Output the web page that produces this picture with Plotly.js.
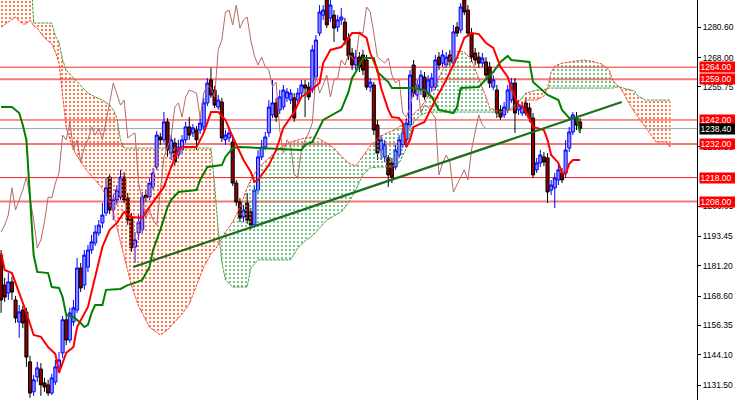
<!DOCTYPE html>
<html><head><meta charset="utf-8">
<script src="https://cdn.plot.ly/plotly-3.0.1.min.js"></script>
<style>html,body{margin:0;padding:0;background:#fff;}#chart{width:735px;height:400px;}</style>
</head><body><div id="chart"></div>
<script>
// ---- candles (bar index = position in array) ----
const openP = [1185.7,1173.2,1169.9,1174.5,1167.0,1157.8,1162.8,1162.0,1141.2,1128.7,1134.9,1138.2,1132.4,1131.6,1128.2,1132.8,1139.1,1144.9,1158.7,1150.3,1157.8,1162.8,1180.3,1173.2,1180.7,1187.8,1190.7,1194.9,1199.1,1203.2,1218.2,1204.5,1208.7,1209.9,1218.2,1209.5,1201.6,1189.1,1194.9,1196.2,1210.7,1209.9,1214.1,1222.4,1234.9,1233.7,1241.2,1228.2,1232.4,1227.4,1229.5,1233.7,1239.1,1236.6,1237.8,1237.8,1239.1,1249.1,1258.7,1254.5,1247.4,1249.5,1233.7,1234.5,1232.8,1215.7,1207.8,1201.6,1207.4,1203.7,1198.2,1212.8,1226.6,1230.7,1236.6,1244.1,1249.1,1246.2,1247.4,1251.2,1250.3,1251.2,1250.3,1253.2,1256.6,1255.7,1254.5,1259.9,1278.2,1285.7,1292.0,1284.5,1285.7,1280.7,1283.7,1282.8,1276.2,1269.9,1264.9,1268.2,1269.1,1267.0,1255.7,1256.6,1239.9,1229.5,1226.6,1226.2,1224.1,1222.4,1227.4,1231.6,1233.7,1239.9,1264.9,1252.4,1254.5,1259.9,1253.2,1255.7,1255.7,1268.2,1265.7,1264.9,1269.1,1265.7,1280.7,1279.5,1292.0,1287.8,1278.2,1269.9,1268.2,1265.7,1266.2,1264.1,1255.7,1254.5,1246.2,1244.1,1246.2,1250.3,1257.4,1246.2,1244.9,1249.1,1247.0,1242.8,1221.2,1224.1,1226.6,1226.2,1212.8,1213.7,1217.0,1219.9,1219.9,1230.3,1237.0,1242.8,1241.2];
const highP = [1187.8,1176.2,1178.2,1176.6,1168.7,1164.9,1164.5,1163.7,1143.7,1135.7,1141.2,1140.7,1134.5,1133.7,1136.2,1142.0,1145.3,1160.3,1160.3,1163.7,1167.0,1184.5,1182.4,1187.8,1189.9,1194.1,1198.2,1200.3,1207.4,1217.8,1219.1,1210.7,1214.9,1221.2,1220.3,1211.6,1203.2,1195.3,1202.4,1212.0,1212.8,1217.8,1222.0,1237.4,1236.6,1245.3,1242.8,1235.7,1234.5,1233.7,1235.7,1241.2,1243.2,1240.3,1239.5,1242.8,1251.2,1259.5,1263.7,1256.2,1252.4,1251.2,1237.8,1238.7,1235.7,1217.0,1209.5,1206.6,1211.6,1205.3,1214.9,1229.5,1233.7,1237.0,1250.3,1258.7,1251.2,1254.5,1256.6,1255.3,1254.9,1253.2,1255.3,1258.7,1258.7,1257.8,1273.2,1277.4,1289.9,1289.9,1293.0,1292.5,1287.8,1285.7,1288.7,1284.5,1278.2,1272.0,1271.2,1270.3,1271.2,1269.1,1259.5,1257.8,1242.0,1235.7,1233.7,1227.4,1226.2,1231.6,1235.7,1238.7,1242.8,1262.8,1267.0,1258.7,1262.8,1262.0,1260.7,1261.6,1269.1,1270.3,1271.2,1270.3,1271.2,1281.6,1282.8,1290.7,1293.0,1289.9,1280.3,1272.0,1270.3,1269.9,1268.2,1266.2,1260.7,1256.6,1248.2,1249.5,1256.6,1259.5,1259.5,1250.3,1249.5,1251.2,1249.1,1244.9,1226.2,1229.5,1228.7,1228.2,1217.0,1219.9,1224.1,1222.0,1233.7,1239.1,1245.3,1245.3,1242.8];
const lowP = [1161.6,1166.2,1167.0,1167.0,1157.4,1151.2,1155.3,1139.1,1126.2,1127.0,1132.8,1127.0,1128.7,1127.0,1127.4,1131.6,1137.8,1142.8,1148.2,1149.1,1156.2,1161.6,1170.3,1171.2,1178.7,1186.2,1189.5,1193.7,1197.0,1202.0,1202.8,1200.3,1206.6,1208.7,1207.4,1198.2,1187.0,1182.4,1192.0,1194.9,1207.8,1208.7,1212.8,1221.2,1231.6,1232.4,1226.6,1225.3,1222.8,1226.2,1228.2,1232.4,1233.7,1234.9,1229.5,1236.2,1237.8,1247.8,1251.2,1247.0,1246.2,1232.8,1231.6,1232.8,1214.5,1206.2,1199.5,1199.5,1198.7,1196.2,1197.0,1211.6,1225.3,1229.5,1234.9,1242.8,1241.2,1244.5,1246.2,1249.5,1248.7,1241.2,1249.1,1252.0,1243.2,1250.3,1253.2,1258.7,1277.0,1283.7,1280.3,1282.8,1274.5,1278.7,1281.6,1273.2,1267.0,1262.8,1262.8,1262.0,1260.7,1254.5,1253.7,1235.7,1225.3,1225.3,1224.5,1214.1,1215.7,1221.2,1226.2,1230.3,1232.4,1238.7,1251.6,1250.3,1252.4,1250.3,1251.6,1253.7,1254.5,1262.8,1264.1,1263.7,1264.5,1264.5,1276.6,1278.2,1285.7,1276.6,1266.2,1264.9,1263.7,1264.1,1258.7,1255.3,1254.5,1242.8,1242.0,1242.8,1244.9,1249.1,1236.6,1244.1,1243.7,1243.7,1241.2,1217.8,1219.9,1222.4,1222.8,1207.4,1210.7,1205.3,1214.9,1215.7,1217.8,1228.7,1235.7,1237.8,1237.4];
const closeP = [1167.0,1168.2,1174.5,1170.3,1159.5,1162.0,1157.4,1143.2,1128.2,1133.7,1138.7,1131.6,1130.7,1128.2,1134.5,1139.1,1142.0,1158.7,1150.3,1161.6,1163.7,1180.3,1172.0,1185.7,1187.8,1191.2,1195.3,1198.2,1202.4,1213.7,1204.5,1208.7,1212.8,1218.2,1208.7,1200.3,1188.7,1192.0,1199.5,1209.9,1209.5,1215.7,1219.9,1235.7,1233.7,1241.2,1229.5,1233.7,1224.5,1230.7,1233.7,1239.1,1235.7,1238.7,1233.7,1240.7,1249.1,1257.4,1252.4,1248.2,1250.3,1234.5,1235.7,1236.6,1215.7,1207.8,1201.2,1204.5,1200.3,1198.2,1212.8,1226.6,1230.7,1234.9,1247.4,1249.1,1243.2,1251.6,1254.5,1253.7,1253.2,1242.8,1253.2,1256.6,1255.3,1251.6,1271.2,1275.3,1287.0,1287.8,1281.6,1289.9,1280.3,1283.7,1284.9,1275.3,1268.7,1264.9,1268.2,1264.1,1262.8,1255.7,1257.8,1237.8,1228.2,1233.7,1231.6,1219.1,1218.2,1229.5,1233.7,1236.6,1240.7,1260.7,1253.2,1256.6,1260.7,1251.6,1258.7,1259.5,1267.0,1264.9,1269.1,1268.2,1266.2,1278.7,1278.2,1289.1,1287.0,1278.2,1268.2,1267.0,1265.7,1267.8,1260.7,1257.4,1258.7,1244.9,1243.2,1247.4,1254.5,1257.4,1244.9,1248.2,1247.4,1244.9,1242.8,1219.1,1224.1,1227.4,1224.5,1212.0,1214.9,1217.8,1221.2,1217.0,1229.5,1237.0,1244.1,1239.9,1238.4];

// ---- Ichimoku lines ----
const tenkanX = [0,1,3,5,7,9,11,13,15,16,17,18,20,21,24,26,28,30,32,34,36,39,41,45,47,49,50,54,56,58,60,62,64,67,69,70,71,72,74,76,78,81,83,85,88,89,91,94,97,99,101,102,104,105,107,108,110,111,112,113,114,117,120,123,126,128,130,132,134,136,138,140,141,143,144,146,147,150,151,152,154,155,156,157,158,160];
const tenkanY = [1186.6,1179.5,1178.2,1170.3,1161.6,1152.4,1151.6,1147.4,1144.5,1136.6,1140.7,1144.9,1147.4,1155.7,1164.1,1176.6,1189.1,1196.2,1199.1,1203.7,1201.6,1201.2,1205.7,1214.1,1222.4,1229.5,1230.7,1230.7,1236.6,1245.3,1245.3,1242.0,1234.9,1225.3,1220.3,1216.2,1217.0,1219.1,1223.2,1229.5,1238.7,1245.3,1251.6,1253.7,1257.4,1265.7,1271.2,1272.4,1278.2,1278.2,1276.2,1269.9,1262.8,1255.3,1246.2,1243.2,1242.8,1240.7,1230.7,1233.7,1239.1,1241.2,1250.3,1258.7,1268.2,1276.2,1278.2,1277.8,1274.1,1272.0,1264.1,1259.9,1255.3,1248.2,1247.8,1242.8,1239.1,1237.8,1233.7,1227.4,1224.1,1219.9,1219.5,1223.7,1225.3,1225.3];
const kijunX = [0,3,5,6,7,8,9,10,13,14,16,17,18,20,22,23,24,25,26,28,29,33,35,37,39,41,42,44,46,47,49,54,55,57,61,62,64,66,83,84,86,89,94,96,97,98,100,103,104,107,108,114,117,119,121,125,126,127,132,133,136,138,140,141,146,147,149,151,154,155,157,159,160];
const kijunY = [1247.4,1247.4,1244.9,1239.9,1233.7,1208.7,1185.7,1178.7,1178.2,1172.4,1172.0,1168.2,1160.7,1159.9,1157.4,1155.7,1156.6,1161.6,1164.9,1164.9,1171.2,1171.6,1173.2,1174.1,1175.3,1180.7,1187.8,1196.2,1205.7,1208.7,1212.0,1212.8,1217.0,1222.4,1223.2,1226.6,1230.3,1230.7,1229.5,1231.6,1232.8,1242.0,1246.2,1253.7,1259.5,1262.0,1267.8,1267.8,1262.0,1257.8,1255.3,1255.3,1254.5,1251.6,1246.2,1244.9,1247.4,1255.3,1255.7,1257.4,1262.0,1266.2,1268.7,1267.0,1266.2,1257.8,1255.3,1252.4,1250.3,1246.2,1242.8,1242.8,1236.6];
const senkouX = [0,3,4,5,6,7,8,9,10,12,14,15,16,17,18,20,22,24,26,28,30,31,32,33,34,36,38,41,44,46,48,50,52,54,56,58,59,60,61,62,64,66,68,69,71,74,77,80,82,84,86,88,90,92,94,96,98,99,100,102,104,106,108,110,112,114,116,118,120,122,124,126,128,130,132,134,135,138,141,143,145,148,150,151,152,153,155,158,161,164,166,168,169,170,171,172,173,175,176,178,180,181,183,184,185];
const senkouA = [1280.7,1284.1,1284.9,1283.2,1282.0,1282.0,1283.7,1281.2,1280.3,1276.2,1273.7,1270.3,1265.7,1252.4,1238.7,1229.5,1224.5,1220.3,1217.0,1213.2,1207.4,1203.2,1197.0,1191.2,1184.5,1173.2,1164.5,1155.7,1152.4,1154.5,1157.8,1161.2,1165.3,1173.2,1180.7,1186.2,1187.8,1189.9,1192.8,1195.3,1199.5,1205.7,1213.7,1217.0,1222.0,1226.2,1230.3,1232.8,1233.7,1234.5,1234.9,1234.1,1232.4,1230.3,1227.0,1224.1,1222.8,1224.9,1227.0,1231.2,1234.1,1236.2,1237.4,1239.1,1241.6,1244.5,1247.4,1251.6,1256.6,1262.8,1267.8,1270.7,1270.3,1267.0,1259.5,1251.6,1247.0,1245.3,1246.2,1247.8,1250.3,1250.3,1252.0,1255.3,1262.0,1264.5,1265.7,1266.2,1267.0,1266.2,1265.3,1262.8,1258.7,1256.6,1255.7,1253.2,1250.3,1245.3,1243.2,1239.5,1234.9,1232.8,1232.8,1232.8,1230.3];
const senkouB = [1308.7,1308.7,1308.7,1308.7,1308.7,1308.7,1308.7,1282.4,1282.4,1282.4,1282.4,1277.0,1274.5,1267.0,1262.8,1259.5,1256.2,1253.2,1251.6,1250.3,1248.2,1246.2,1242.8,1233.7,1230.3,1230.3,1230.3,1230.3,1230.3,1230.3,1230.3,1230.3,1230.3,1230.3,1230.3,1230.3,1214.9,1196.2,1182.8,1175.3,1172.4,1172.4,1172.4,1180.3,1183.7,1183.7,1183.7,1183.7,1188.7,1191.6,1193.7,1197.0,1200.3,1202.0,1203.7,1207.4,1212.8,1216.2,1219.1,1222.0,1222.4,1222.4,1222.4,1224.1,1230.3,1241.2,1244.1,1245.3,1245.3,1245.3,1245.3,1245.3,1245.3,1245.3,1245.3,1245.3,1245.3,1245.3,1247.0,1249.5,1253.2,1254.5,1254.5,1255.3,1255.3,1255.3,1255.3,1255.3,1255.3,1255.3,1255.3,1255.3,1255.3,1255.7,1255.7,1255.3,1254.9,1254.1,1252.0,1250.3,1250.3,1250.3,1250.3,1250.3,1250.3];
const chikouShift = 26;

// ---- drawn objects ----
const trendX = [36.5, 171.5];
const trendY = [1180.7, 1249.5];
const thinLevels = [1264, 1242, 1218];
const wideLevels = [1259, 1232, 1208];
const bidPrice = 1238.4;
const tickVals = [1131.50,1144.10,1156.35,1168.60,1181.20,1193.45,1206.05,1230.90,1255.75,1268.00,1280.60];

// ---------------- build ----------------
const barIdx = closeP.map((_, i) => i);
const traces = [];

function cloudRegions(xs, a, b) {
  const regions = [];
  let cur = null;
  for (let k = 0; k < xs.length; k++) {
    const d = a[k] - b[k];
    const s = d >= 0 ? 1 : -1;
    if (!cur) { cur = {sign: s, pts: [[xs[k], a[k], b[k]]]}; continue; }
    if (s !== cur.sign && d !== 0) {
      const d0 = a[k-1] - b[k-1];
      const t = d0 / (d0 - d);
      const xc = xs[k-1] + t * (xs[k] - xs[k-1]);
      const yc = a[k-1] + t * (a[k] - a[k-1]);
      cur.pts.push([xc, yc, yc]);
      regions.push(cur);
      cur = {sign: s, pts: [[xc, yc, yc], [xs[k], a[k], b[k]]]};
    } else {
      cur.pts.push([xs[k], a[k], b[k]]);
    }
  }
  regions.push(cur);
  return regions;
}
cloudRegions(senkouX, senkouA, senkouB).forEach(r => {
  const xs = r.pts.map(p => p[0]);
  const ya = r.pts.map(p => p[1]);
  const yb = r.pts.map(p => p[2]);
  const col = r.sign > 0 ? '#46a85e' : '#ff5a1f';
  traces.push({
    type: 'scatter', mode: 'none', fill: 'toself',
    x: xs.concat(xs.slice().reverse()),
    y: ya.concat(yb.slice().reverse()),
    fillcolor: 'rgba(0,0,0,0)',
    fillpattern: {shape: '.', fgcolor: col, bgcolor: 'rgba(0,0,0,0)', size: 4, solidity: r.sign > 0 ? 0.18 : 0.22},
    hoverinfo: 'skip', showlegend: false
  });
});

traces.push({type: 'scatter', mode: 'lines', x: senkouX, y: senkouA,
  line: {color: '#ff3b2f', width: 1, dash: '3px,1px'}, hoverinfo: 'skip', showlegend: false});
traces.push({type: 'scatter', mode: 'lines', x: senkouX, y: senkouB,
  line: {color: '#3d9a3d', width: 1, dash: '3px,1px'}, hoverinfo: 'skip', showlegend: false});

const chX = [], chY = [];
for (let i = chikouShift; i < closeP.length; i++) { chX.push(i - chikouShift); chY.push(closeP[i]); }
traces.push({type: 'scatter', mode: 'lines', x: chX, y: chY,
  line: {color: '#b46a6a', width: 1}, hoverinfo: 'skip', showlegend: false});

traces.push({
  type: 'candlestick', x: barIdx, open: openP, high: highP, low: lowP, close: closeP,
  increasing: {line: {color: '#0000ff', width: 1}, fillcolor: '#8a8aff'},
  decreasing: {line: {color: '#000000', width: 1}, fillcolor: '#8b0000'},
  whiskerwidth: 0, hoverinfo: 'skip', showlegend: false
});

traces.push({type: 'scatter', mode: 'lines', x: kijunX, y: kijunY,
  line: {color: '#008000', width: 2}, hoverinfo: 'skip', showlegend: false});
traces.push({type: 'scatter', mode: 'lines', x: tenkanX, y: tenkanY,
  line: {color: '#ff0000', width: 2}, hoverinfo: 'skip', showlegend: false});
traces.push({type: 'scatter', mode: 'lines', x: trendX, y: trendY,
  line: {color: '#1b6e1b', width: 2.2}, hoverinfo: 'skip', showlegend: false});

const shapes = [];
thinLevels.forEach(v => shapes.push({type: 'line', xref: 'paper', x0: 0, x1: 1, yref: 'y', y0: v, y1: v,
  line: {color: '#ff2020', width: 1}, layer: 'below'}));
wideLevels.forEach(v => shapes.push({type: 'line', xref: 'paper', x0: 0, x1: 1, yref: 'y', y0: v, y1: v,
  line: {color: '#f47a7a', width: 2}, layer: 'below'}));
shapes.push({type: 'line', xref: 'paper', x0: 0, x1: 1, yref: 'y', y0: bidPrice, y1: bidPrice,
  line: {color: '#98a4b4', width: 1}, layer: 'below'});

const fontFam = 'Liberation Sans, Arial, sans-serif';
function label(v, bg) {
  return {xref: 'paper', yref: 'y', x: 1, y: v, xanchor: 'left', yanchor: 'middle', xshift: 2,
    text: v.toFixed(2), showarrow: false, bgcolor: bg,
    font: {family: fontFam, size: 8.5, color: '#ffffff'}, borderpad: 0.5,
    width: 35, height: 9, align: 'left'};
}
const annotations = thinLevels.concat(wideLevels).map(v => label(v, '#ff0000'));
annotations.push(label(bidPrice, '#000000'));

const layout = {
  width: 735, height: 400,
  margin: {l: 0, r: 38, t: 0, b: 0, pad: 0},
  paper_bgcolor: '#ffffff', plot_bgcolor: '#ffffff',
  showlegend: false,
  boxgap: 0.15, boxgroupgap: 0,
  xaxis: {range: [-0.3, 192.3], visible: false, rangeslider: {visible: false}, fixedrange: true},
  yaxis: {
    side: 'right', range: [1125.3, 1292.0], fixedrange: true,
    tickvals: tickVals, ticktext: tickVals.map(v => v.toFixed(2)),
    ticks: 'outside', ticklen: 3, tickcolor: '#000', tickwidth: 1,
    showline: true, linecolor: '#000', linewidth: 1,
    showgrid: false, zeroline: false,
    tickfont: {family: fontFam, size: 8.5, color: '#000'}
  },
  shapes: shapes,
  annotations: annotations
};

Plotly.newPlot('chart', traces, layout, {staticPlot: true, displayModeBar: false});
</script>
</body></html>
